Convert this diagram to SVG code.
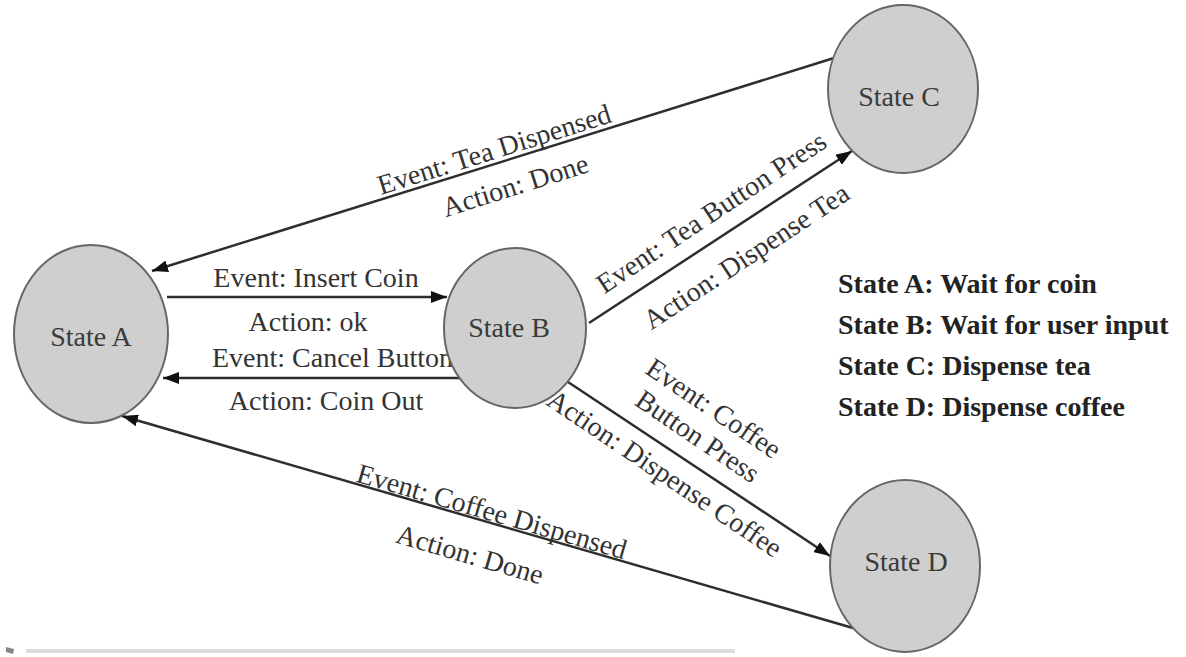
<svg xmlns="http://www.w3.org/2000/svg" width="1186" height="657" viewBox="0 0 1186 657">
<style>
.node ellipse{fill:#cfcfcf;stroke:#666;stroke-width:2}
.node text{font-family:"Liberation Serif",serif;font-size:28px;fill:#3a3a3a;text-anchor:middle}
.edge line{stroke:#2e2e2e;stroke-width:2.5;marker-end:url(#arr)}
.lbl{font-family:"Liberation Serif",serif;font-size:28px;fill:#333;text-anchor:middle}
.legend{font-family:"Liberation Serif",serif;font-size:28px;font-weight:bold;fill:#222}
</style>
<defs>
<marker id="arr" viewBox="0 0 16 12" refX="16" refY="6" markerWidth="16" markerHeight="12" markerUnits="userSpaceOnUse" orient="auto">
<path d="M0,0 L16,6 L0,12 Z" fill="#111"/>
</marker>
</defs>
<rect width="1186" height="657" fill="#fff"/>
<g id="connectors">
<g id="e-C-A" class="edge">
<line x1="834" y1="58" x2="152" y2="271"/>
<text class="lbl" transform="translate(494,149) rotate(-17.5)" dy="0.35em">Event: Tea Dispensed</text>
<text class="lbl" transform="translate(515,185) rotate(-17.5)" dy="0.35em">Action: Done</text>
</g>
<g id="e-A-B" class="edge">
<line x1="167" y1="297" x2="447" y2="297"/>
<text class="lbl" x="316" y="287">Event: Insert Coin</text>
<text class="lbl" x="308" y="331">Action: ok</text>
</g>
<g id="e-B-A" class="edge">
<line x1="461" y1="378" x2="163" y2="378"/>
<text class="lbl" x="212" y="367" style="text-anchor:start">Event: Cancel Button</text>
<text class="lbl" x="326" y="410">Action: Coin Out</text>
</g>
<g id="e-B-C" class="edge">
<line x1="589" y1="323" x2="852" y2="151"/>
<text class="lbl" transform="translate(711,212) rotate(-33.5)" dy="0.35em">Event: Tea Button Press</text>
<text class="lbl" transform="translate(746,256) rotate(-33.5)" dy="0.35em">Action: Dispense Tea</text>
</g>
<g id="e-B-D" class="edge">
<line x1="568" y1="382" x2="830" y2="556"/>
<text class="lbl" transform="translate(714,408) rotate(34)" dy="0.35em">Event: Coffee</text>
<text class="lbl" transform="translate(698,436) rotate(34)" dy="0.35em">Button Press</text>
<text class="lbl" transform="translate(665,473) rotate(34)" dy="0.35em">Action: Dispense Coffee</text>
</g>
<g id="e-D-A" class="edge">
<line x1="853" y1="628" x2="122" y2="416"/>
<text class="lbl" transform="translate(492,511) rotate(16.2)" dy="0.35em">Event: Coffee Dispensed</text>
<text class="lbl" transform="translate(470,554) rotate(16.2)" dy="0.35em">Action: Done</text>
</g>
</g>
<g id="node-A" class="node"><ellipse cx="91" cy="334" rx="77" ry="89"/><text x="91" y="346">State A</text></g>
<g id="node-B" class="node"><ellipse cx="515" cy="328" rx="71" ry="80"/><text x="509" y="337">State B</text></g>
<g id="node-C" class="node"><ellipse cx="903" cy="89" rx="75" ry="84"/><text x="899" y="106">State C</text></g>
<g id="node-D" class="node"><ellipse cx="905" cy="566" rx="75" ry="86"/><text x="906" y="571">State D</text></g>
<g id="legend">
<text class="legend" x="838" y="293">State A: Wait for coin</text>
<text class="legend" x="838" y="334">State B: Wait for user input</text>
<text class="legend" x="838" y="375">State C: Dispense tea</text>
<text class="legend" x="838" y="416">State D: Dispense coffee</text>
</g>
<g id="artifacts">
<line x1="26" y1="651" x2="735" y2="651" stroke="#dcdcdc" stroke-width="4"/>
<path d="M6,647 L14,649 L13,654 L6,652 Z" fill="#888"/>
</g>
</svg>
